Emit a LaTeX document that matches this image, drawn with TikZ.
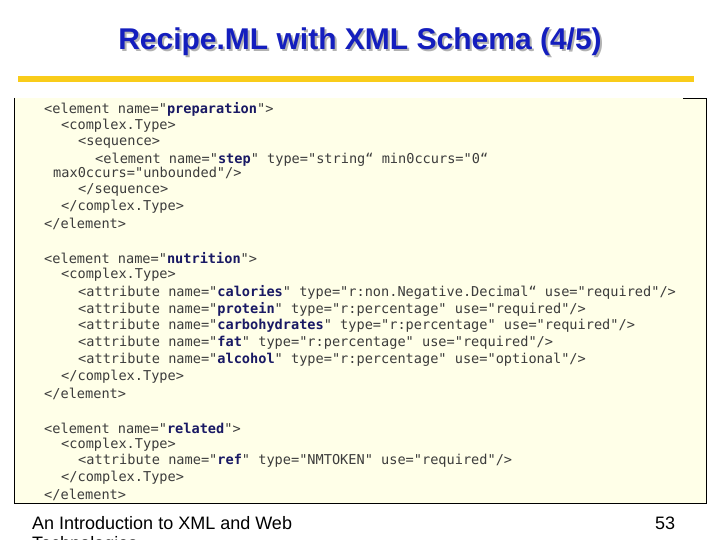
\documentclass[tikz,border=0pt]{standalone}
\usepackage{fontspec}
\setmainfont{Liberation Sans}
\setmonofont{DejaVu Sans Mono}
\usetikzlibrary{positioning}
\definecolor{titleblue}{RGB}{20,30,190}
\definecolor{rulegold}{RGB}{249,204,26}
\definecolor{codebg}{RGB}{255,255,232}
\definecolor{codetext}{RGB}{60,60,60}
\definecolor{namecol}{RGB}{25,25,100}
\newcommand{\nm}[1]{\textbf{\color{namecol}#1}}
\begin{document}
\begin{tikzpicture}
[x=1pt, y=-1pt,
code/.style ={anchor=west, inner sep=0pt, font=\ttfamily\fontsize{13.6}{16}\selectfont, text=codetext},
footer/.style ={anchor=west, inner sep=0pt, font=\fontsize{18}{20}\selectfont}]
\useasboundingbox[fill=white] (0,0) rectangle (720,540);

%Titel
\node[font=\bfseries\fontsize{30}{34}\selectfont, text=black!30] (shadow) at (362,44) {Recipe.ML with XML Schema (4/5)};
\node[font=\bfseries\fontsize{30}{34}\selectfont, text=titleblue] (title) at (360,42) {Recipe.ML with XML Schema (4/5)};
\fill[rulegold] (18,76) rectangle (694,82);

%Codebox
\fill[codebg] (14,98) rectangle (706,503);
\draw[black] (14,98) -- (14,503) -- (706,503) -- (706,98) -- (683,98);

%Code
\node[code] (l1) at (44,109) {<element name="\nm{preparation}">};
\node[code] (l2) at (61,126) {<complex.Type>};
\node[code] (l3) at (78,143) {<sequence>};
\node[code] (l4) at (95,160) {<element name="\nm{step}" type="string“ min0ccurs="0“};
\node[code] (l5) at (53,173) {max0ccurs="unbounded"/>};
\node[code] (l6) at (78,190) {</sequence>};
\node[code] (l7) at (61,207) {</complex.Type>};
\node[code] (l8) at (44,224) {</element>};

\node[code] (n1) at (44,258) {<element name="\nm{nutrition}">};
\node[code] (n2) at (61,275) {<complex.Type>};
\node[code] (n3) at (78,292) {<attribute name="\nm{calories}" type="r:non.Negative.Decimal“ use="required"/>};
\node[code] (n4) at (78,309) {<attribute name="\nm{protein}" type="r:percentage" use="required"/>};
\node[code] (n5) at (78,326) {<attribute name="\nm{carbohydrates}" type="r:percentage" use="required"/>};
\node[code] (n6) at (78,343) {<attribute name="\nm{fat}" type="r:percentage" use="required"/>};
\node[code] (n7) at (78,360) {<attribute name="\nm{alcohol}" type="r:percentage" use="optional"/>};
\node[code] (n8) at (61,377) {</complex.Type>};
\node[code] (n9) at (44,394) {</element>};

\node[code] (r1) at (44,428) {<element name="\nm{related}">};
\node[code] (r2) at (61,445) {<complex.Type>};
\node[code] (r3) at (78,461) {<attribute name="\nm{ref}" type="NMTOKEN" use="required"/>};
\node[code] (r4) at (61,478) {</complex.Type>};
\node[code] (r5) at (44,495) {</element>};

%Fusszeile
\node[footer] (foot) at (32,523) {An Introduction to XML and Web};
\node[footer] (foot2) at (32,545) {Technologies};
\node[footer] (page) at (655,523) {53};
\end{tikzpicture}
\end{document}
